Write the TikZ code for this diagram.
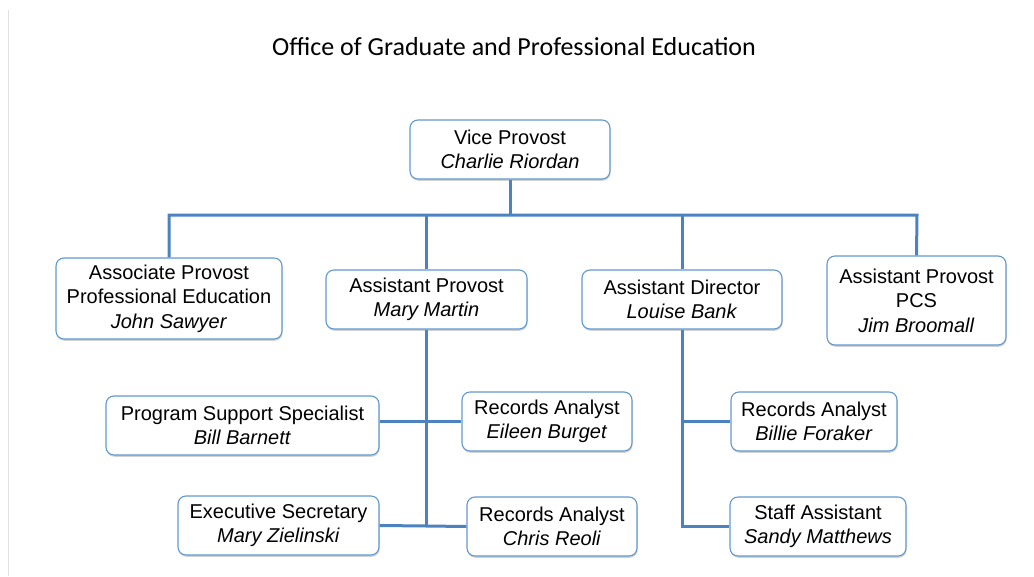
\documentclass[tikz,border=0pt]{standalone}
\usepackage{fontspec}
\setmainfont{Liberation Sans}
\newfontfamily\titlefont{Carlito}
\usetikzlibrary{shadows}
\definecolor{linkblue}{RGB}{76,130,192}
\definecolor{boxblue}{RGB}{98,152,208}
\definecolor{edgegray}{RGB}{225,225,225}
\tikzset{
  person/.style={draw=boxblue, line width=1.1pt, rounded corners=8pt, fill=white,
    align=center, font=\fontsize{20}{24.5}\selectfont, inner sep=0pt,
    drop shadow={shadow xshift=0.6pt, shadow yshift=-1.8pt, opacity=0.18, fill=black}},
  link/.style={draw=linkblue, line width=3pt}
}
\newcommand{\who}[1]{\textit{#1}}
\begin{document}
\begin{tikzpicture}[x=1pt, y=-1pt]
\useasboundingbox (0,0) rectangle (1034,576);
\draw[edgegray, line width=1pt] (8,10) -- (8,576);

\node[font=\titlefont\fontsize{26}{30}\selectfont] (title) at (514,47) {Office of Graduate and Professional Education};

\node[person, minimum width=200pt, minimum height=59pt] (vp) at (510,149.5)
  {Vice Provost\\\who{Charlie Riordan}};
\node[person, minimum width=226pt, minimum height=81pt] (ap) at (169,298.5)
  {Associate Provost\\Professional Education\\\who{John Sawyer}};
\node[person, minimum width=201pt, minimum height=59pt] (mm) at (426.5,299.5)
  {Assistant Provost\\\who{Mary Martin}};
\node[person, minimum width=200pt, minimum height=59pt] (lb) at (682,299.5)
  {Assistant Director\\\who{Louise Bank}};
\node[person, minimum width=179pt, minimum height=89pt] (pcs) at (916.5,300.5)
  {Assistant Provost\\PCS\\\who{Jim Broomall}};

\node[person, minimum width=273pt, minimum height=59pt] (pss) at (242.5,425.5)
  {Program Support Specialist\\\who{Bill Barnett}};
\node[person, minimum width=170pt, minimum height=59pt] (eb) at (547,421.5)
  {Records Analyst\\\who{Eileen Burget}};
\node[person, minimum width=201pt, minimum height=59pt] (es) at (278.5,525.5)
  {Executive Secretary\\\who{Mary Zielinski}};
\node[person, minimum width=170pt, minimum height=59pt] (cr) at (552,526.5)
  {Records Analyst\\\who{Chris Reoli}};
\node[person, minimum width=166pt, minimum height=59pt] (bf) at (814,421.5)
  {Records Analyst\\\who{Billie Foraker}};
\node[person, minimum width=176pt, minimum height=59pt] (sa) at (818,526.5)
  {Staff Assistant\\\who{Sandy Matthews}};

% junction points of the connector tree
\coordinate (busL) at (169,215);
\coordinate (busR) at (917,215);
\coordinate (mmB) at (426.5,526);

\draw[link] (vp.south) -- (vp.south |- busL);
\draw[link, line join=miter] (ap.north) |- (busL) -- (busR) -- (pcs.north);
\draw[link] (mm.north) -- (mm.north |- busL);
\draw[link] (lb.north) -- (lb.north |- busL);

\draw[link] (mm.south) -- (mmB);
\draw[link] (pss.east |- eb.west) -- (eb.west);
\draw[link] (es.east) -- (mmB) -- (cr.west);

\draw[link, line join=miter] (lb.south) |- (sa.west);
\draw[link] (lb.south |- bf.west) -- (bf.west);
\end{tikzpicture}
\end{document}
